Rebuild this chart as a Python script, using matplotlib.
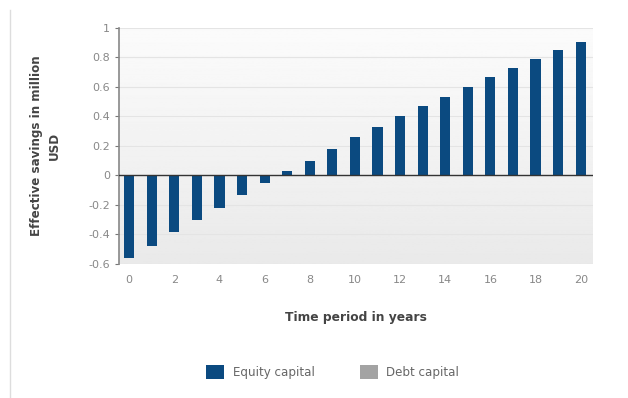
import numpy as np
import matplotlib.pyplot as plt
from matplotlib.patches import Patch
from matplotlib.lines import Line2D

# Effective savings per year (million USD)
years = list(range(0, 21))
equity_capital = [-0.56, -0.48, -0.38, -0.30, -0.22, -0.13, -0.05, 0.03, 0.10, 0.18,
                  0.26, 0.33, 0.40, 0.47, 0.53, 0.60, 0.665, 0.73, 0.79, 0.85, 0.905]
x_ticks = list(range(0, 21, 2))
y_ticks = [-0.6, -0.4, -0.2, 0, 0.2, 0.4, 0.6, 0.8, 1]

bar_color = "#0b4a80"
debt_color = "#a3a3a3"
label_color = "#777777"

fig = plt.figure(figsize=(6.28, 3.98), dpi=100)
ax = fig.add_axes([0.1895, 0.3367, 0.755, 0.593])

# soft vertical gradient behind the bars
grad = np.linspace(0.985, 0.915, 256).reshape(-1, 1)
ax.imshow(grad, cmap="gray", vmin=0, vmax=1, aspect="auto",
          extent=[-0.5, 20.5, -0.6, 1], zorder=0, origin="upper")

ax.bar(years, equity_capital, width=0.45, color=bar_color, zorder=3)

ax.set_xlim(-0.45, 20.55)
ax.set_ylim(-0.6, 1)
ax.set_xticks(x_ticks)
ax.set_yticks(y_ticks)
ax.set_yticklabels(["-0.6", "-0.4", "-0.2", "0", "0.2", "0.4", "0.6", "0.8", "1"])
ax.grid(axis="y", color="#e4e4e4", linewidth=0.8, zorder=1)
ax.axhline(0, color="#333333", linewidth=1.0, zorder=4)

for side in ["top", "right", "bottom"]:
    ax.spines[side].set_visible(False)
ax.spines["left"].set_color("#888888")
ax.spines["left"].set_linewidth(1.2)

ax.tick_params(axis="y", colors=label_color, labelsize=8, length=3, width=0.8)
ax.tick_params(axis="x", colors=label_color, labelsize=8, length=0, pad=8)
for lab in ax.get_xticklabels() + ax.get_yticklabels():
    lab.set_color("#888888")

ax.set_xlabel("Time period in years", fontsize=8.8, fontweight="bold",
              color="#444444", labelpad=19)
ax.set_ylabel("Effective savings in million\nUSD", fontsize=8.6, fontweight="bold",
              color="#444444", labelpad=20, linespacing=1.45)

handles = [Patch(facecolor=bar_color, label="Equity capital"),
           Patch(facecolor=debt_color, label="Debt capital")]
fig.legend(handles=handles, loc="center", bbox_to_anchor=(0.53, 0.065), ncol=2,
           frameon=False, fontsize=8.6, handlelength=1.5, handleheight=1.5,
           columnspacing=3.8, handletextpad=0.7, labelcolor="#666666")

# thin border line on the left side of the card
fig.add_artist(Line2D([0.016, 0.016], [0.0, 0.975], color="#dddddd", linewidth=1.0))

fig.savefig("out.png", dpi=100)
